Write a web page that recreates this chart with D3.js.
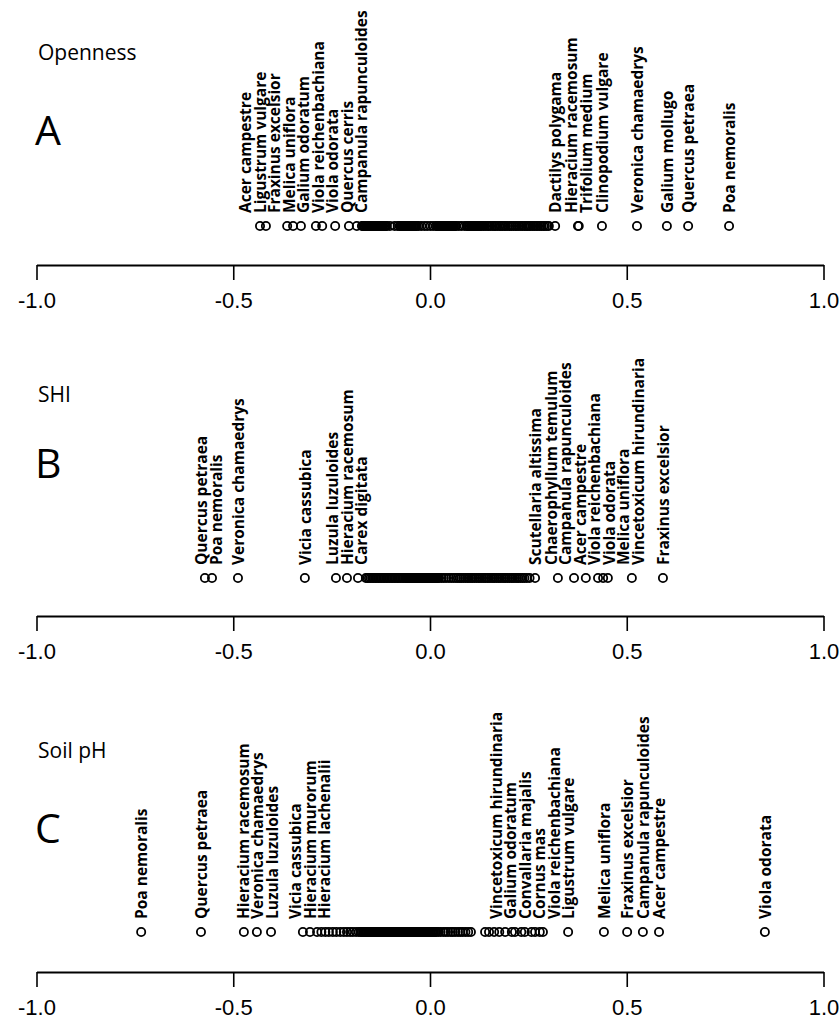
<!DOCTYPE html>
<html><head><meta charset="utf-8">
<script src="https://cdn.jsdelivr.net/npm/d3@7"></script>
<style>body{margin:0;background:#fff}</style>
</head><body>
<svg id="chart" width="839" height="1028"></svg>
<script>
// ---------------- data ----------------
const tickValues = [-1.0, -0.5, 0.0, 0.5, 1.0];
const panelTitles = ["Openness", "SHI", "Soil pH"];
const panelLetters = ["A", "B", "C"];

// Panel A – Openness: labelled species
const opennessSpecies = ["Acer campestre","Ligustrum vulgare","Fraxinus excelsior","Melica uniflora","Galium odoratum","Viola reichenbachiana","Viola odorata","Quercus cerris","Campanula rapunculoides","Dactilys polygama","Hieracium racemosum","Trifolium medium","Clinopodium vulgare","Veronica chamaedrys","Galium mollugo","Quercus petraea","Poa nemoralis"];
const opennessValues = [-0.432,-0.417,-0.363,-0.348,-0.328,-0.290,-0.274,-0.241,-0.206,0.318,0.376,0.378,0.437,0.526,0.602,0.656,0.760];
// Panel A – unlabelled species
const opennessOther = [-0.186,-0.173,-0.170,-0.168,-0.166,-0.163,-0.161,-0.159,-0.156,-0.154,-0.151,-0.149,-0.147,-0.145,-0.142,-0.140,-0.138,-0.135,-0.133,-0.130,-0.128,-0.126,-0.124,-0.121,-0.119,-0.116,-0.114,-0.112,-0.110,-0.102,-0.090,-0.082,-0.077,-0.075,-0.072,-0.070,-0.067,-0.065,-0.063,-0.060,-0.058,-0.056,-0.053,-0.051,-0.048,-0.046,-0.043,-0.041,-0.039,-0.036,-0.034,-0.029,-0.022,-0.014,-0.007,0.001,0.008,0.015,0.018,0.020,0.023,0.025,0.027,0.030,0.032,0.035,0.037,0.039,0.042,0.044,0.047,0.049,0.052,0.054,0.057,0.059,0.061,0.064,0.066,0.073,0.080,0.088,0.094,0.096,0.099,0.101,0.104,0.106,0.109,0.111,0.113,0.116,0.118,0.121,0.123,0.126,0.128,0.131,0.136,0.140,0.145,0.149,0.153,0.158,0.163,0.166,0.171,0.176,0.180,0.184,0.189,0.193,0.198,0.203,0.207,0.212,0.217,0.221,0.226,0.231,0.235,0.240,0.244,0.248,0.252,0.256,0.261,0.265,0.270,0.274,0.279,0.283,0.288,0.292,0.297,0.302];

// Panel B – SHI
const shiSpecies = ["Quercus petraea","Poa nemoralis","Veronica chamaedrys","Vicia cassubica","Luzula luzuloides","Hieracium racemosum","Carex digitata","Scutellaria altissima","Chaerophyllum temulum","Campanula rapunculoides","Acer campestre","Viola reichenbachiana","Viola odorata","Melica uniflora","Vincetoxicum hirundinaria","Fraxinus excelsior"];
const shiValues = [-0.572,-0.554,-0.488,-0.318,-0.239,-0.211,-0.183,0.267,0.325,0.366,0.396,0.427,0.440,0.452,0.513,0.592];
const shiOther = [-0.163,-0.159,-0.155,-0.151,-0.147,-0.143,-0.139,-0.135,-0.131,-0.127,-0.123,-0.119,-0.115,-0.111,-0.107,-0.103,-0.099,-0.095,-0.091,-0.087,-0.083,-0.079,-0.075,-0.071,-0.067,-0.063,-0.060,-0.058,-0.055,-0.053,-0.050,-0.048,-0.045,-0.043,-0.040,-0.038,-0.035,-0.033,-0.030,-0.028,-0.025,-0.023,-0.020,-0.018,-0.015,-0.013,-0.010,-0.008,-0.005,-0.003,0.000,0.002,0.005,0.007,0.010,0.012,0.015,0.017,0.020,0.023,0.029,0.035,0.041,0.048,0.054,0.060,0.066,0.071,0.076,0.080,0.085,0.090,0.095,0.099,0.104,0.108,0.113,0.118,0.123,0.127,0.132,0.137,0.141,0.146,0.150,0.155,0.160,0.164,0.169,0.174,0.178,0.183,0.188,0.192,0.197,0.202,0.207,0.211,0.216,0.221,0.225,0.230,0.235,0.240,0.246,0.253];

// Panel C – Soil pH
const phSpecies = ["Poa nemoralis","Quercus petraea","Hieracium racemosum","Veronica chamaedrys","Luzula luzuloides","Vicia cassubica","Hieracium murorum","Hieracium lachenalii","Vincetoxicum hirundinaria","Galium odoratum","Convallaria majalis","Cornus mas","Viola reichenbachiana","Ligustrum vulgare","Melica uniflora","Fraxinus excelsior","Campanula rapunculoides","Acer campestre","Viola odorata"];
const phValues = [-0.734,-0.582,-0.473,-0.440,-0.404,-0.323,-0.305,-0.287,0.191,0.216,0.241,0.267,0.287,0.351,0.442,0.501,0.541,0.582,0.851];
const phOther = [-0.276,-0.266,-0.257,-0.247,-0.238,-0.228,-0.219,-0.211,-0.203,-0.196,-0.188,-0.181,-0.176,-0.173,-0.170,-0.168,-0.165,-0.163,-0.160,-0.157,-0.155,-0.152,-0.150,-0.147,-0.145,-0.142,-0.139,-0.137,-0.134,-0.132,-0.129,-0.127,-0.124,-0.121,-0.119,-0.116,-0.114,-0.111,-0.109,-0.106,-0.103,-0.101,-0.098,-0.096,-0.093,-0.091,-0.088,-0.085,-0.083,-0.080,-0.078,-0.075,-0.073,-0.070,-0.067,-0.065,-0.062,-0.060,-0.057,-0.055,-0.052,-0.049,-0.047,-0.044,-0.042,-0.039,-0.037,-0.034,-0.031,-0.029,-0.026,-0.024,-0.021,-0.019,-0.016,-0.013,-0.011,-0.008,-0.006,-0.003,0.000,0.002,0.005,0.008,0.010,0.013,0.016,0.021,0.027,0.034,0.040,0.046,0.053,0.058,0.064,0.071,0.077,0.083,0.090,0.097,0.104,0.140,0.150,0.163,0.176,0.208,0.232,0.258,0.279];

// ---------------- drawing ----------------
const svg = d3.select("#chart");
const x = d3.scaleLinear().domain([-1, 1]).range([36.5, 823.5]);

const panels = [
  {title: panelTitles[0], letter: panelLetters[0], species: opennessSpecies, values: opennessValues, other: opennessOther,
   titleY: 60, letterY: 145, pointY: 226, axisY: 265},
  {title: panelTitles[1], letter: panelLetters[1], species: shiSpecies, values: shiValues, other: shiOther,
   titleY: 402, letterY: 478, pointY: 578, axisY: 616},
  {title: panelTitles[2], letter: panelLetters[2], species: phSpecies, values: phValues, other: phOther,
   titleY: 758, letterY: 843, pointY: 932, axisY: 972}
];

const labelFont = "'Open Sans', 'Noto Sans', sans-serif";
const GAP = 14.5;

function spreadLabels(xs, gap) {
  let clusters = xs.map((v, i) => ({n: 1, sum: v}));
  let merged = true;
  const pos = c => (c.sum / c.n);
  while (merged) {
    merged = false;
    for (let i = 0; i < clusters.length - 1; i++) {
      const a = clusters[i], b = clusters[i + 1];
      const aEnd = pos(a) + (a.n - 1) / 2 * gap;
      const bStart = pos(b) - (b.n - 1) / 2 * gap;
      if (bStart - aEnd < gap) {
        clusters.splice(i, 2, {n: a.n + b.n, sum: a.sum + b.sum});
        merged = true;
        break;
      }
    }
  }
  const out = [];
  clusters.forEach(c => {
    const m = pos(c);
    for (let k = 0; k < c.n; k++) out.push(m + (k - (c.n - 1) / 2) * gap);
  });
  return out;
}

panels.forEach(p => {
  const g = svg.append("g");
  g.append("text").attr("x", 38).attr("y", p.titleY)
    .attr("font-family", labelFont).attr("font-size", 21).attr("fill", "#000").text(p.title);
  g.append("text").attr("x", 35).attr("y", p.letterY)
    .attr("font-family", labelFont).attr("font-size", 41).attr("fill", "#000").text(p.letter);

  const allVals = p.values.concat(p.other);
  g.selectAll("circle.pt").data(allVals).join("circle")
    .attr("class", "pt")
    .attr("cx", d => x(d)).attr("cy", p.pointY).attr("r", 4.1)
    .attr("fill", "none").attr("stroke", "#000").attr("stroke-width", 1.8);

  const labelled = p.species.map((s, i) => ({name: s, v: p.values[i]})).sort((a, b) => a.v - b.v);
  const lx = spreadLabels(labelled.map(d => x(d.v)), GAP);
  g.selectAll("text.lab").data(labelled).join("text")
    .attr("class", "lab")
    .attr("transform", (d, i) => `translate(${lx[i]},${p.pointY - 13}) rotate(-90)`)
    .attr("dominant-baseline", "central")
    .attr("font-family", labelFont).attr("font-weight", 700).attr("font-size", 15.5)
    .attr("fill", "#000").text(d => d.name);

  const axis = d3.axisBottom(x).tickValues(tickValues).tickFormat(d => d.toFixed(1))
    .tickSize(15).tickSizeOuter(0).tickPadding(12);
  const ag = g.append("g").attr("transform", `translate(0,${p.axisY})`).call(axis);
  ag.select(".domain").attr("stroke-width", 2.2);
  ag.selectAll(".tick line").attr("stroke-width", 1.6);
  ag.selectAll(".tick text").attr("font-family", "'Liberation Sans Narrow', 'Arial Narrow', sans-serif")
    .attr("font-size", 22).attr("fill", "#000");
});
</script>
</body></html>
